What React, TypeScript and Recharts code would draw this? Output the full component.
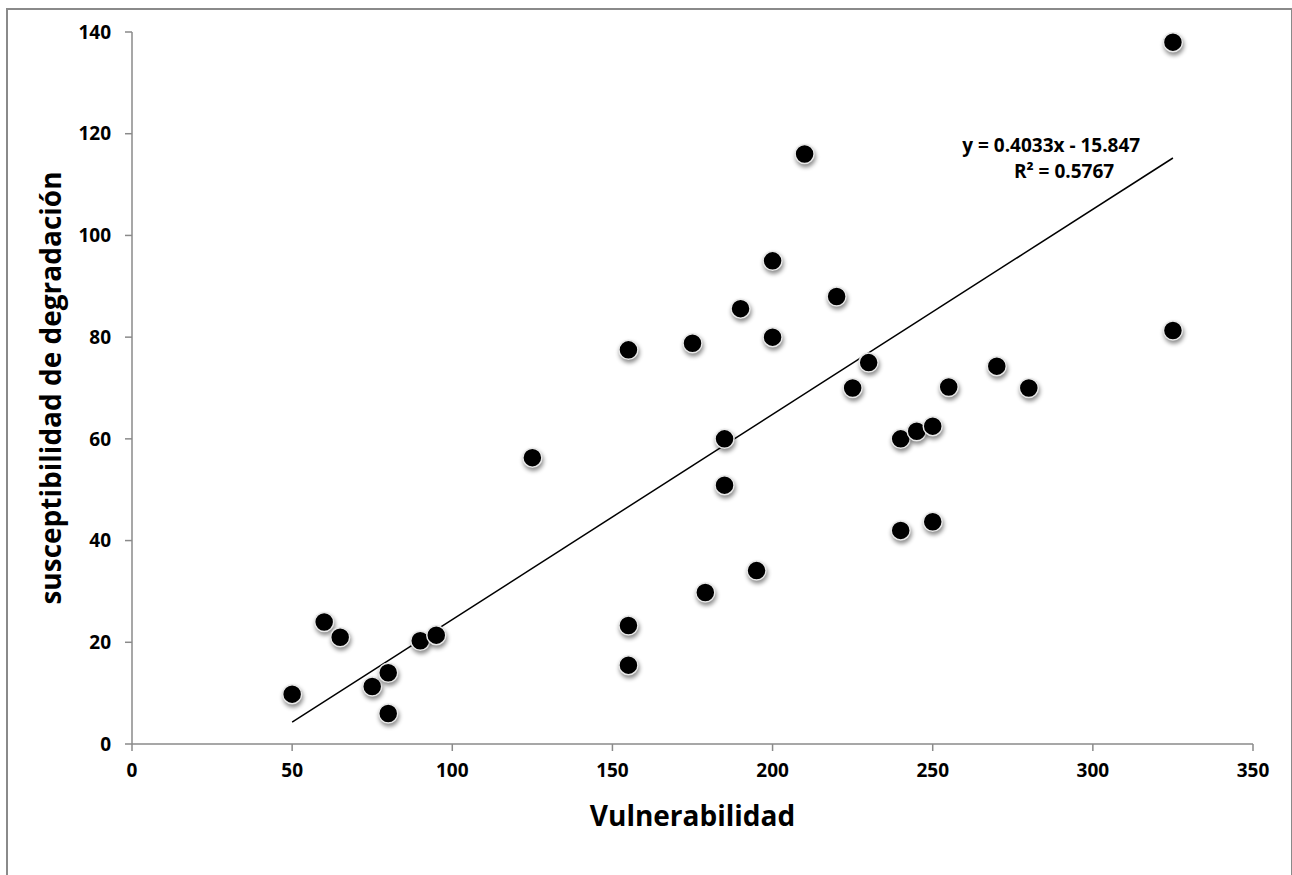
import React from 'react';
import { ScatterChart, Scatter, XAxis, YAxis, ReferenceLine, ReferenceDot, Label } from 'recharts';

// valores
const vulnerabilidad = [50, 60, 65, 75, 80, 80, 90, 95, 125, 155, 155, 155, 175, 179, 185, 185, 190, 195, 200, 200, 210, 220, 225, 230, 240, 240, 245, 250, 250, 255, 270, 280, 325, 325];
const susceptibilidad = [9.8, 24, 21, 11.3, 14, 6, 20.3, 21.4, 56.3, 77.5, 23.3, 15.5, 78.8, 29.8, 60, 50.9, 85.6, 34.1, 95, 80, 116, 88, 70, 75, 60, 42, 61.5, 62.5, 43.7, 70.2, 74.3, 70, 138, 81.3];

const xTicks = [0, 50, 100, 150, 200, 250, 300, 350];
const yTicks = [0, 20, 40, 60, 80, 100, 120, 140];

// linea de tendencia (Excel)
const slope = 0.4033;
const intercept = -15.847;
const trendRange = [50, 325];
const equationText = 'y = 0.4033x - 15.847';
const r2Text = 'R² = 0.5767';

const FONT = '"Open Sans", "DejaVu Sans", sans-serif';
const AXIS_GRAY = '#8a8a8a';

const points = vulnerabilidad.map((x, i) => ({ x, y: susceptibilidad[i] }));
const trendSegment = trendRange.map((x) => ({ x, y: slope * x + intercept }));

const Dot = (props: any) => {
  const { cx, cy } = props;
  if (cx == null || cy == null) return <g />;
  return (
    <circle
      cx={cx}
      cy={cy}
      r={9.5}
      fill="#000"
      stroke="#e8e8e8"
      strokeWidth={1.5}
      style={{ filter: 'drop-shadow(1px 3px 2px rgba(0,0,0,0.45))' }}
    />
  );
};

const tickStyle = { fill: '#000', fontSize: 19, fontWeight: 700, fontFamily: FONT };

const EqLabel = (text: string) => (p: any) => (
  <text
    x={p.viewBox.x + (p.viewBox.width || 0) / 2}
    y={p.viewBox.y + (p.viewBox.height || 0) / 2}
    textAnchor="middle"
    dominantBaseline="central"
    fontSize={19}
    fontWeight={700}
    fontFamily={FONT}
    fill="#000"
  >
    {text}
  </text>
);

export default function App() {
  return (
    <div style={{ position: 'absolute', left: 0, top: 0, width: 1292, height: 875, overflow: 'hidden', background: '#fff' }}>
      <div
        style={{
          position: 'absolute',
          left: 6,
          top: 8,
          width: 1283,
          height: 900,
          border: `2px solid ${AXIS_GRAY}`,
          borderBottom: 'none',
        }}
      />
      <div style={{ position: 'absolute', left: 0, top: 0 }}>
        <ScatterChart width={1292} height={875} margin={{ top: 32, right: 39, bottom: 0, left: 0 }} style={{ fontFamily: FONT }}>
          <XAxis
            type="number"
            dataKey="x"
            domain={[0, 350]}
            ticks={xTicks}
            height={131}
            tick={tickStyle}
            tickSize={7}
            tickMargin={13}
            axisLine={{ stroke: AXIS_GRAY, strokeWidth: 1.5 }}
            tickLine={{ stroke: AXIS_GRAY, strokeWidth: 1.5 }}
            allowDataOverflow
          >
            <Label
              content={({ viewBox }: any) => (
                <text
                  x={viewBox.x + viewBox.width / 2}
                  y={826}
                  textAnchor="middle"
                  fontSize={28}
                  fontWeight={700}
                  fontFamily={FONT}
                  fill="#000"
                >
                  Vulnerabilidad
                </text>
              )}
            />
          </XAxis>
          <YAxis
            type="number"
            dataKey="y"
            domain={[0, 140]}
            ticks={yTicks}
            width={132}
            tick={tickStyle}
            tickSize={7}
            tickMargin={14}
            axisLine={{ stroke: AXIS_GRAY, strokeWidth: 1.5 }}
            tickLine={{ stroke: AXIS_GRAY, strokeWidth: 1.5 }}
            allowDataOverflow
          >
            <Label
              content={({ viewBox }: any) => {
                const cx = 50;
                const cy = viewBox.y + viewBox.height / 2;
                return (
                  <text
                    x={cx}
                    y={cy}
                    transform={`rotate(-90, ${cx}, ${cy})`}
                    textAnchor="middle"
                    dominantBaseline="central"
                    fontSize={28}
                    fontWeight={700}
                    fontFamily={FONT}
                    fill="#000"
                  >
                    susceptibilidad de degradación
                  </text>
                );
              }}
            />
          </YAxis>
          <ReferenceLine segment={trendSegment} stroke="#000" strokeWidth={1.5} ifOverflow="visible" />
          <Scatter data={points} shape={Dot} isAnimationActive={false} />
          <ReferenceDot x={287} y={117.7} r={0} fill="none" stroke="none" label={EqLabel(equationText)} />
          <ReferenceDot x={291} y={112.6} r={0} fill="none" stroke="none" label={EqLabel(r2Text)} />
        </ScatterChart>
      </div>
    </div>
  );
}
